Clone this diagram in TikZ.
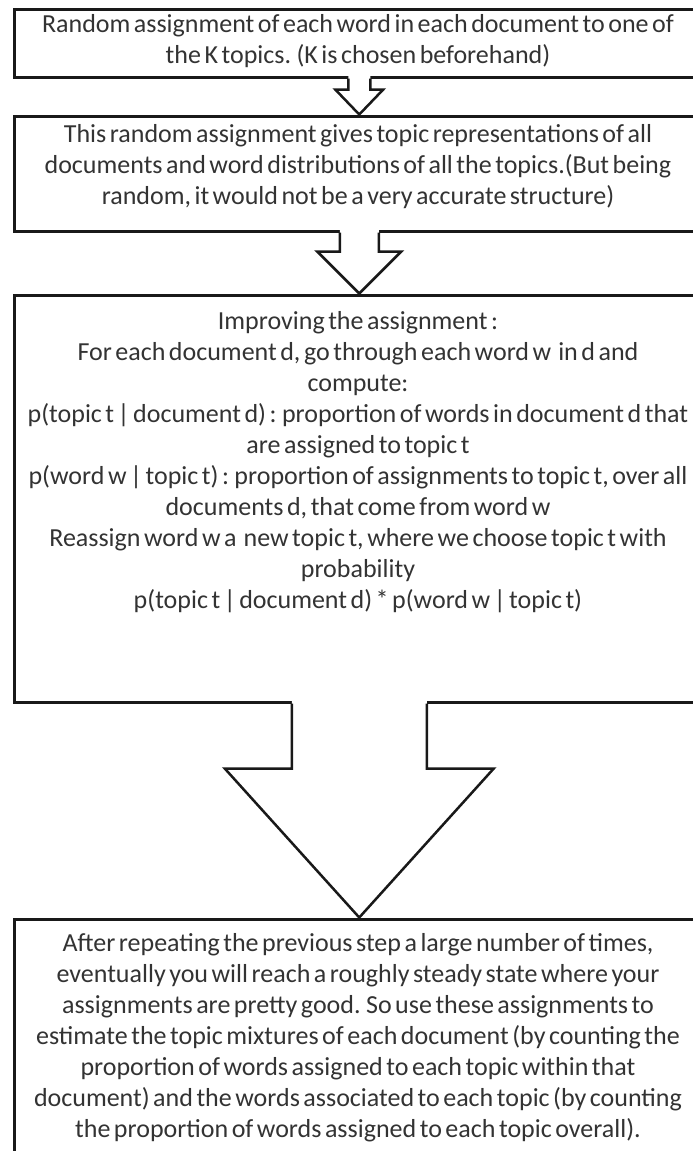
\documentclass[tikz,border=0pt]{standalone}
\usepackage{fontspec}
\setmainfont{Carlito}[WordSpace=0.6]
\usetikzlibrary{calc}
\tikzset{
  stepbox/.style={draw=black!90, line width=3pt, rectangle, minimum width=689.5pt, inner sep=0pt},
  blockarrow/.style={draw=black!90, line width=2.5pt, line join=miter},
  txt/.style={font=\fontsize{26}{31}\selectfont, align=center, inner sep=0pt, text=black!80}
}
\begin{document}
\begin{tikzpicture}[x=1pt,y=-1pt]
\useasboundingbox (0,0) rectangle (693,1151);
\clip (0,0) rectangle (693,1151);
\fill[white] (0,0) rectangle (693,1151);
% boxes
\node[stepbox, minimum height=68pt] (b1) at (359.25,43) {};
\node[stepbox, minimum height=115pt] (b2) at (359.25,173.5) {};
\node[stepbox, minimum height=407pt] (b3) at (359.25,498.5) {};
\node[stepbox, minimum height=241pt] (b4) at (359.25,1039.5) {};
% block arrows
\fill[white] ($(b1.south)+(-11,-3)$) -- ($(b1.south)+(-11,11)$) -- ($(b1.south)+(-24,11)$) -- (b2.north) -- ($(b1.south)+(24,11)$) -- ($(b1.south)+(11,11)$) -- ($(b1.south)+(11,-3)$) -- cycle;
\draw[blockarrow] (b1.south) ++(-11,0) -- ++(0,11) -- ++(-13,0) -- (b2.north) -- ($(b1.south)+(24,11)$) -- ++(-13,0) -- ++(0,-11);
\fill[white] ($(b2.south)+(-19.5,-3)$) -- ($(b2.south)+(-19.5,19)$) -- ($(b2.south)+(-42,19)$) -- (b3.north) -- ($(b2.south)+(42,19)$) -- ($(b2.south)+(19.5,19)$) -- ($(b2.south)+(19.5,-3)$) -- cycle;
\draw[blockarrow] (b2.south) ++(-19.5,0) -- ++(0,19) -- ++(-22.5,0) -- (b3.north) -- ($(b2.south)+(42,19)$) -- ++(-22.5,0) -- ++(0,-19);
\fill[white] ($(b3.south)+(-67.5,-3)$) -- ($(b3.south)+(-67.5,65)$) -- ($(b3.south)+(-134.5,65)$) -- (b4.north) -- ($(b3.south)+(134.5,65)$) -- ($(b3.south)+(67.5,65)$) -- ($(b3.south)+(67.5,-3)$) -- cycle;
\draw[blockarrow] (b3.south) ++(-67.5,0) -- ++(0,65) -- ++(-67,0) -- (b4.north) -- ($(b3.south)+(134.5,65)$) -- ++(-67,0) -- ++(0,-65);
% texts
\node[txt] (t1) at (358,41) {Random assignment of each word in each document to one of\\the K topics. (K is chosen beforehand)};
\node[txt] (t2) at (358,167) {This random assignment gives topic representations of all\\documents and word distributions of all the topics.(But being\\random, it would not be a very accurate structure)};
\node[txt] (t3) at (358,462) {Improving the assignment :\\For each document d, go through each word w~ in d and\\compute:\\p(topic t | document d) : proportion of words in document d that\\are assigned to topic t\\p(word w | topic t) : proportion of assignments to topic t, over all\\documents d, that come from word w\\Reassign word w a~ new topic t, where we choose topic t with\\probability\\p(topic t | document d) * p(word w | topic t)};
\node[txt] (t4) at (358,1037.5) {After repeating the previous step a large number of times,\\eventually you will reach a roughly steady state where your\\assignments are pretty good. So use these assignments to\\estimate the topic mixtures of each document (by counting the\\proportion of words assigned to each topic within that\\document) and the words associated to each topic (by counting\\the proportion of words assigned to each topic overall).};
\end{tikzpicture}
\end{document}
